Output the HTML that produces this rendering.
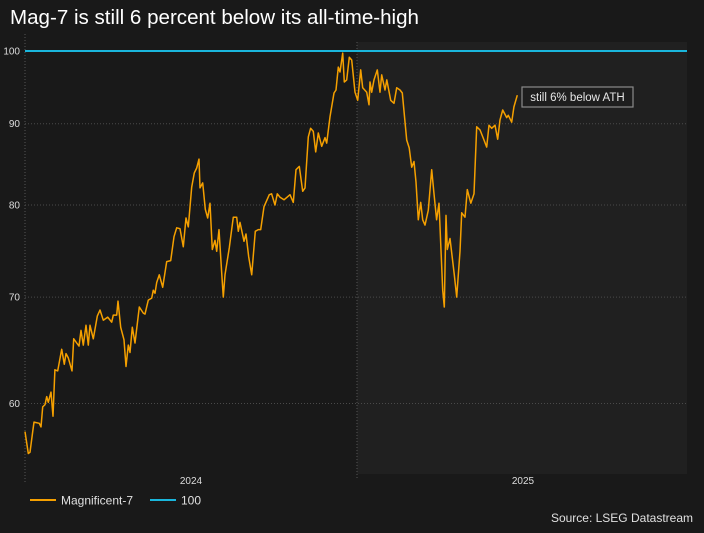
<!DOCTYPE html>
<html><head><meta charset="utf-8"><style>
body{margin:0;background:#191919;width:704px;height:528px;overflow:hidden;font-family:"Liberation Sans",sans-serif}
svg text{font-family:"Liberation Sans",sans-serif}
</style></head><body>
<svg id="chart" width="704" height="528" xmlns="http://www.w3.org/2000/svg">
<rect width="704" height="528" fill="#191919"/>
<text x="10" y="24" fill="#ffffff" font-size="20" textLength="409" lengthAdjust="spacingAndGlyphs">Mag-7 is still 6 percent below its all-time-high</text>
<g id="plot"></g>
<line x1="30" y1="500" x2="56" y2="500" stroke="#f5a000" stroke-width="2"/>
<text x="61" y="504.5" fill="#e0e0e0" font-size="12">Magnificent-7</text>
<line x1="150" y1="500" x2="176" y2="500" stroke="#1ab6dc" stroke-width="2"/>
<text x="181" y="504.5" fill="#e0e0e0" font-size="12">100</text>
<text x="693" y="522" text-anchor="end" fill="#e0e0e0" font-size="12">Source: LSEG Datastream</text>
</svg>
<script>
const days=[0,3.6,5.5,8.5,9.9,15.8,17.6,19.5,22,23.9,25.7,28.7,30.9,33,36,37.8,40.5,43.3,45.2,47.7,51.8,53.7,57,59.5,61.7,64.3,67.2,69.8,71.7,75.3,79.7,82.7,86.3,91.2,95.6,97.3,101.1,102.5,105.5,109.1,111.3,113.9,115.8,118.3,121.3,126,130.4,132.3,135.9,139.7,141.4,143.3,145.2,148,151.8,156.2,160.6,164.3,167.2,170.9,174.5,177.5,180,183.8,186.6,189.3,191.8,192.9,195.9,198.8,201.4,203.9,206.5,209.5,211.3,213.9,
216.8,218.6,220.5,225.2,229.6,233.4,235.1,237,241.4,243.6,246.6,249.9,253.9,257.2,259.8,263.5,269.3,271.9,275.6,278.1,281.1,285.5,292.1,295.8,298.8,302.4,306.1,308.7,312.3,314.9,317.8,320.5,323.3,327.1,330.7,332.6,336.2,340.6,342.9,345.4,347.3,350.2,352,354.6,357.5,360.2,363.8,366.8,370.1,372.3,376.7,379.2,
380.3,382.2,384.7,388.4,391.4,393.2,396.9,398.8,403.2,406.8,409.8,413.4,415.9,420.8,423.6,426.3,428.8,431,433.6,436.2,438.4,441,444.6,448.3,450.9,453.8,456.4,460.5,462.2,464.1,465.5,468.5,473.3,475.9,479.5,481.4,485.1,487.6,491.4,495,498,501.6,506,509,511.5,514.5,518.1,521.1,523.6,526.6,531,532.8,536.5,539,542.7];
const mag7=[57.6,55.8,55.9,57.6,58.4,58.3,58.0,59.7,59.9,60.6,60.1,61.0,58.9,63.0,62.9,63.7,64.9,63.5,64.5,64.1,62.9,65.9,65.5,65.2,66.7,65.3,67.2,65.3,67.2,65.9,68.1,68.7,67.7,68.0,67.5,68.2,68.2,69.6,67.0,65.8,63.3,65.3,64.6,67.0,65.5,69.0,68.4,68.3,69.7,69.9,70.7,70.4,71.5,72.3,71.0,73.7,73.8,76.4,77.4,77.3,75.3,78.5,77.5,82.1,83.8,84.4,85.5,82.0,82.6,79.5,78.5,80.2,75.0,76.0,74.8,77.2,
72.5,70.0,72.3,75.2,78.6,78.6,77.0,78.0,75.9,76.7,74.2,72.3,77.0,77.2,77.2,79.8,81.2,81.3,80.0,81.3,80.9,80.6,81.2,80.3,84.2,84.6,81.6,82.0,88.3,89.4,89.0,86.4,88.8,87.1,88.2,87.5,90.9,94.1,94.5,97.7,97.0,99.7,95.6,95.9,99.1,98.7,94.2,93.1,97.3,94.8,94.2,92.5,
95.6,94.2,95.9,97.3,94.2,96.6,94.5,95.9,93.1,92.7,94.8,94.5,94.1,87.9,86.9,84.5,85.2,82.7,78.3,80.3,78.3,77.7,79.4,84.2,81.3,78.3,80.2,70.7,69.0,78.8,75.0,76.2,72.3,70.0,74.8,79.1,78.6,81.8,80.2,81.3,89.6,89.2,87.9,87.0,89.8,89.4,89.8,88.0,90.5,91.8,90.8,91.1,90.2,92.2,93.8];
const yTicks=[60,70,80,90,100];
const xYears=["2024","2025"];
const refLevel=[100];

const NS="http://www.w3.org/2000/svg";
const L=25,R=687,T=42,B=474;
const yearW=332;
function xs(d){return L+d*yearW/366;}
function ys(v){return 51+690*Math.log(100/v);}
const g=document.getElementById('plot');
function mk(t,a,p){const e=document.createElementNS(NS,t);for(const k in a)e.setAttribute(k,a[k]);(p||g).appendChild(e);return e;}
const bg=mk('rect',{x:L+yearW,y:T,width:R-L-yearW,height:B-T,fill:'#202020'});


const ax=mk('line',{x1:L,y1:T-8,x2:L,y2:B+8,stroke:'#555','stroke-dasharray':'1,2'});


const sep=mk('line',{x1:L+yearW,y1:T,x2:L+yearW,y2:B+6,stroke:'#555','stroke-dasharray':'1,2'});


yTicks.forEach(v=>{
  const y=ys(v);
  if(v!==100){
    const gl=mk('line',{x1:L,y1:y,x2:R,y2:y,stroke:'#4a4a4a','stroke-dasharray':'1,2'});
    
    
  }
  const t=mk('text',{x:20,y:y+3.5,'text-anchor':'end',fill:'#dddddd','font-size':'10'});
  t.textContent=v;
  
  
});
xYears.forEach((yr,i)=>{
  const t=mk('text',{x:L+yearW*(i+0.5),y:484,'text-anchor':'middle',fill:'#dddddd','font-size':'10'});
  t.textContent=yr;
  
  
});
refLevel.forEach(v=>{
  const l=mk('line',{x1:L,y1:ys(v),x2:R,y2:ys(v),stroke:'#1ab6dc','stroke-width':'2'});
  
  
});
let d='';
days.forEach((dd,i)=>{d+=(i?'L':'M')+xs(dd).toFixed(1)+','+ys(mag7[i]).toFixed(1);});
const p=mk('path',{d:d,fill:'none',stroke:'#f5a000','stroke-width':'1.5','stroke-linejoin':'round'});


const ab=mk('rect',{x:522,y:87,width:111,height:20,fill:'#1e1e1e',stroke:'#8a8a8a','stroke-width':'1.2'});


const at=mk('text',{x:577.5,y:101,'text-anchor':'middle',fill:'#e6e6e6','font-size':'11.5'});
at.textContent='still 6% below ATH';


</script>
</body></html>
